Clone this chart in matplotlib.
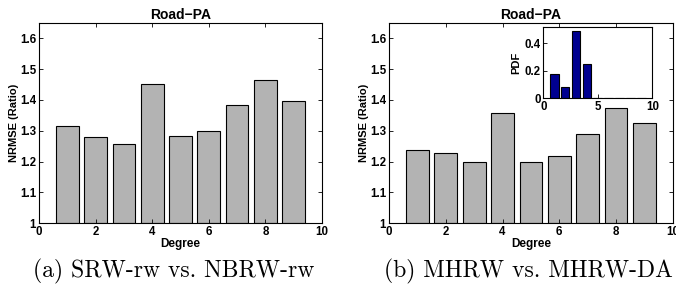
import numpy as np
import matplotlib.pyplot as plt

degree = [1, 2, 3, 4, 5, 6, 7, 8, 9]
ratio_a = [1.316, 1.280, 1.256, 1.450, 1.284, 1.300, 1.383, 1.465, 1.395]
ratio_b = [1.238, 1.228, 1.198, 1.359, 1.200, 1.218, 1.291, 1.374, 1.325]
pdf_deg = [1, 2, 3, 4, 5, 6, 7, 8, 9]
pdf_val = [0.175, 0.085, 0.49, 0.25, 0.005, 0.0, 0.0, 0.0, 0.0]
captions = ['(a) SRW-rw vs. NBRW-rw', '(b) MHRW vs. MHRW-DA']

plt.rcParams['font.family'] = ['Liberation Sans', 'DejaVu Sans']
plt.rcParams['font.weight'] = 'bold'

fig = plt.figure(figsize=(6.76, 2.89), dpi=100)

def style(ax, fs=8.3):
    ax.tick_params(direction='in', top=True, right=True, labelsize=fs, length=3, width=0.6, pad=2)
    for s in ax.spines.values():
        s.set_linewidth(0.8)
    for lab in ax.get_xticklabels() + ax.get_yticklabels():
        lab.set_fontweight('bold')

def fmt(v, pos):
    return ('%g' % round(v, 2))

positions = [[0.0577, 0.2273, 0.4186, 0.694], [0.5754, 0.2273, 0.420, 0.694]]
cap_x = [0.257, 0.781]
for k, vals in enumerate([ratio_a, ratio_b]):
    ax = fig.add_axes(positions[k])
    ax.bar(degree, np.array(vals) - 1, bottom=1, width=0.8, color='#b3b3b3', edgecolor='black', linewidth=0.8)
    ax.set_xlim(0, 10)
    ax.set_ylim(1, 1.65)
    ax.set_xticks([0, 2, 4, 6, 8, 10])
    ax.set_yticks([1, 1.1, 1.2, 1.3, 1.4, 1.5, 1.6])
    ax.yaxis.set_major_formatter(plt.FuncFormatter(fmt))
    ax.set_title('Road\u2212PA', fontsize=10, fontweight='bold', pad=3)
    ax.set_xlabel('Degree', fontsize=8.5, fontweight='bold', labelpad=0)
    ax.set_ylabel('NRMSE (Ratio)', fontsize=8, fontweight='bold', labelpad=1)
    style(ax)
    fig.text(cap_x[k], 0.062, captions[k],
             fontsize=17, fontweight='normal', ha='center', va='center',
             family=['cmr10', 'DejaVu Serif'])

ins = fig.add_axes([0.8037, 0.660, 0.1612, 0.2478])
ins.bar(pdf_deg, pdf_val, width=0.8, color='#000090', edgecolor='black', linewidth=0.8)
ins.set_xlim(0, 10)
ins.set_ylim(0, 0.52)
ins.set_xticks([0, 5, 10])
ins.set_yticks([0, 0.2, 0.4])
ins.yaxis.set_major_formatter(plt.FuncFormatter(fmt))
ins.set_ylabel('PDF', fontsize=8, fontweight='bold', labelpad=2)
style(ins)
ins.tick_params(top=False, right=False)

fig.savefig('out.png', dpi=100)
